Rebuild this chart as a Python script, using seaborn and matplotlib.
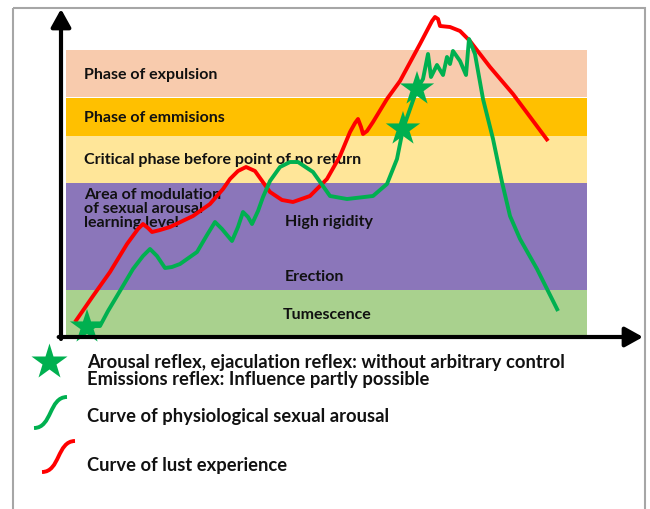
import matplotlib
matplotlib.use("Agg")
import matplotlib.pyplot as plt
from matplotlib.patches import Rectangle, PathPatch
from matplotlib.path import Path
import seaborn as sns
import pandas as pd

# ---------------- data (time 0-100, arousal level 0-100) ----------------
red_t = [2.41, 5.50, 8.42, 11.34, 13.23, 14.09, 14.95, 15.64, 17.01, 18.73, 22.68, 25.60,
         27.84, 29.04, 30.41, 31.79, 33.33, 35.91, 37.97, 39.86, 42.78, 45.70, 47.94, 49.66,
         50.52, 51.03, 51.55, 51.89, 52.58, 53.61, 56.01, 58.25, 61.68, 63.75, 64.26, 64.78,
         65.12, 66.84, 68.56, 70.27, 73.71, 77.66, 83.68]
red_level = [4.57, 12.50, 19.82, 28.35, 32.93, 34.45, 33.23, 32.01, 32.62, 33.54, 36.89, 40.55,
             45.12, 48.17, 50.61, 51.83, 50.61, 44.21, 41.77, 41.16, 42.99, 48.17, 55.18, 62.50,
             65.24, 66.46, 64.02, 61.89, 62.80, 65.55, 72.56, 78.05, 89.33, 96.34, 97.56, 96.95,
             94.82, 94.51, 93.29, 90.24, 82.32, 74.09, 59.76]

green_t = [4.47, 6.70, 8.08, 9.62, 12.37, 14.09, 15.29, 16.49, 17.87, 19.07, 20.45, 23.37,
           25.09, 26.46, 27.66, 29.38, 30.41, 31.27, 32.13, 32.82, 33.85, 34.71, 35.91, 37.63,
           39.35, 40.72, 43.30, 46.22, 49.14, 53.61, 56.01, 57.73, 58.76, 59.97, 61.17, 62.20,
           63.06, 63.57, 64.60, 65.64, 66.32, 66.84, 67.35, 68.56, 69.59, 70.10, 71.13, 72.51,
           74.23, 75.77, 77.15, 78.87, 81.79, 85.40]
green_level = [3.35, 3.35, 7.93, 12.50, 20.73, 24.70, 26.83, 24.70, 21.04, 21.34, 22.26, 25.91,
               31.10, 35.06, 32.93, 29.27, 33.54, 38.11, 36.59, 34.45, 38.41, 42.68, 47.56, 51.83,
               53.35, 53.35, 50.30, 42.99, 42.07, 42.99, 46.65, 54.27, 63.41, 69.51, 75.61, 78.66,
               86.28, 79.27, 82.93, 79.88, 85.37, 83.23, 87.20, 84.15, 79.88, 90.85, 86.28, 72.56,
               60.37, 47.26, 36.89, 29.88, 20.73, 7.93]

star_t = [4.47, 58.76, 61.17]
star_level = [3.05, 63.41, 75.61]

band_names = ["Tumescence", "Erection / High rigidity", "Critical phase before point of no return",
              "Phase of emmisions", "Phase of expulsion"]
band_low = [0.0, 14.3, 47.0, 61.3, 73.2]
band_high = [14.3, 47.0, 61.3, 72.9, 87.5]
band_start = 0.86
band_end = 90.4
band_colors = ["#A9D18E", "#8B76BA", "#FFE699", "#FFC000", "#F8CBAD"]

legend_texts = ["Arousal reflex, ejaculation reflex: without arbitrary control",
                "Emissions reflex: Influence partly possible",
                "Curve of physiological sexual arousal",
                "Curve of lust experience"]

RED = "#FF0000"
GREEN = "#00B050"

# ---------------- figure ----------------
sns.set_theme(style="white")
plt.rcParams["font.family"] = ["Lato", "DejaVu Sans"]

fig = plt.figure(figsize=(6.5, 5.1), dpi=100)
fig.patch.set_facecolor("white")

W, H = 650, 510
ax = fig.add_axes([61 / W, (H - 338) / H, 582 / W, 328 / H])
ax.set_xlim(0, 100)
ax.set_ylim(0, 100)
ax.set_axis_off()

# bands
for lo, hi, c in zip(band_low, band_high, band_colors):
    ax.barh(y=lo, width=band_end - band_start, left=band_start, height=hi - lo,
            align="edge", color=c, edgecolor="none", zorder=1)

# band labels
lab_kw = dict(fontsize=11.5, fontweight="bold", color="#111111", va="center", ha="left", zorder=2)
ax.text(3.95, 80.2, "Phase of expulsion", **lab_kw)
ax.text(3.95, 67.1, "Phase of emmisions", **lab_kw)
ax.text(3.95, 54.3, "Critical phase before point of no return", **lab_kw)
ax.text(3.95, 43.6, "Area of modulation", **lab_kw)
ax.text(3.95, 39.4, "of sexual arousal", **lab_kw)
ax.text(3.95, 35.2, "learning level", **lab_kw)
ax.text(38.5, 35.4, "High rigidity", **lab_kw)
ax.text(38.5, 18.6, "Erection", **lab_kw)
ax.text(38.1, 7.0, "Tumescence", **lab_kw)

# curves
red_df = pd.DataFrame({"t": red_t, "level": red_level})
green_df = pd.DataFrame({"t": green_t, "level": green_level})
sns.lineplot(data=red_df, x="t", y="level", sort=False, estimator=None, color=RED,
             lw=2.8, ax=ax, zorder=4, solid_joinstyle="round", solid_capstyle="butt")
sns.lineplot(data=green_df, x="t", y="level", sort=False, estimator=None, color=GREEN,
             lw=2.8, ax=ax, zorder=5, solid_joinstyle="round", solid_capstyle="butt")

# stars
star_df = pd.DataFrame({"t": star_t, "level": star_level})
sns.scatterplot(data=star_df, x="t", y="level", marker="*", s=26 ** 2, color=GREEN,
                edgecolor="none", ax=ax, zorder=6, clip_on=False)
ax.set_xlabel("")
ax.set_ylabel("")

# axis arrows
arrow_kw = dict(arrowstyle="-|>,head_length=0.9,head_width=0.5", lw=3.0, color="black",
                mutation_scale=12, shrinkA=0, shrinkB=0)
ax.annotate("", xy=(0, 100), xytext=(0, -0.6), xycoords="data", arrowprops=arrow_kw,
            annotation_clip=False, zorder=7)
ax.annotate("", xy=(100, 0), xytext=(-0.4, 0), xycoords="data", arrowprops=arrow_kw,
            annotation_clip=False, zorder=7)

# ---------------- overlay for legend & frame ----------------
ov = fig.add_axes([0, 0, 1, 1], zorder=10)
ov.set_xlim(0, W)
ov.set_ylim(H, 0)
ov.set_axis_off()
ov.patch.set_alpha(0)

ov.add_patch(Rectangle((13, 9), 645 - 13, 520, fill=False, edgecolor="#A6A6A6", lw=1.5))

ov.plot([49], [363], marker="*", ms=27, color=GREEN, mec="none", ls="none")

def s_glyph(x0, y0, x1, y1, color):
    verts = [(x0, y0), (x0 + (x1 - x0) * 0.55, y0), (x0 + (x1 - x0) * 0.45, y1), (x1, y1)]
    p = Path(verts, [Path.MOVETO, Path.CURVE4, Path.CURVE4, Path.CURVE4])
    ov.add_patch(PathPatch(p, fill=False, edgecolor=color, lw=2.8, capstyle="butt"))

s_glyph(34, 429, 67, 398, GREEN)
s_glyph(42, 473, 75, 442, RED)

leg_kw = dict(fontsize=13.2, fontweight="bold", color="#111111", va="center", ha="left")
ov.text(87, 363, legend_texts[0], **leg_kw)
ov.text(87, 380, legend_texts[1], **leg_kw)
ov.text(87, 417, legend_texts[2], **leg_kw)
ov.text(87, 466, legend_texts[3], **leg_kw)

fig.savefig("out.png", dpi=100)
